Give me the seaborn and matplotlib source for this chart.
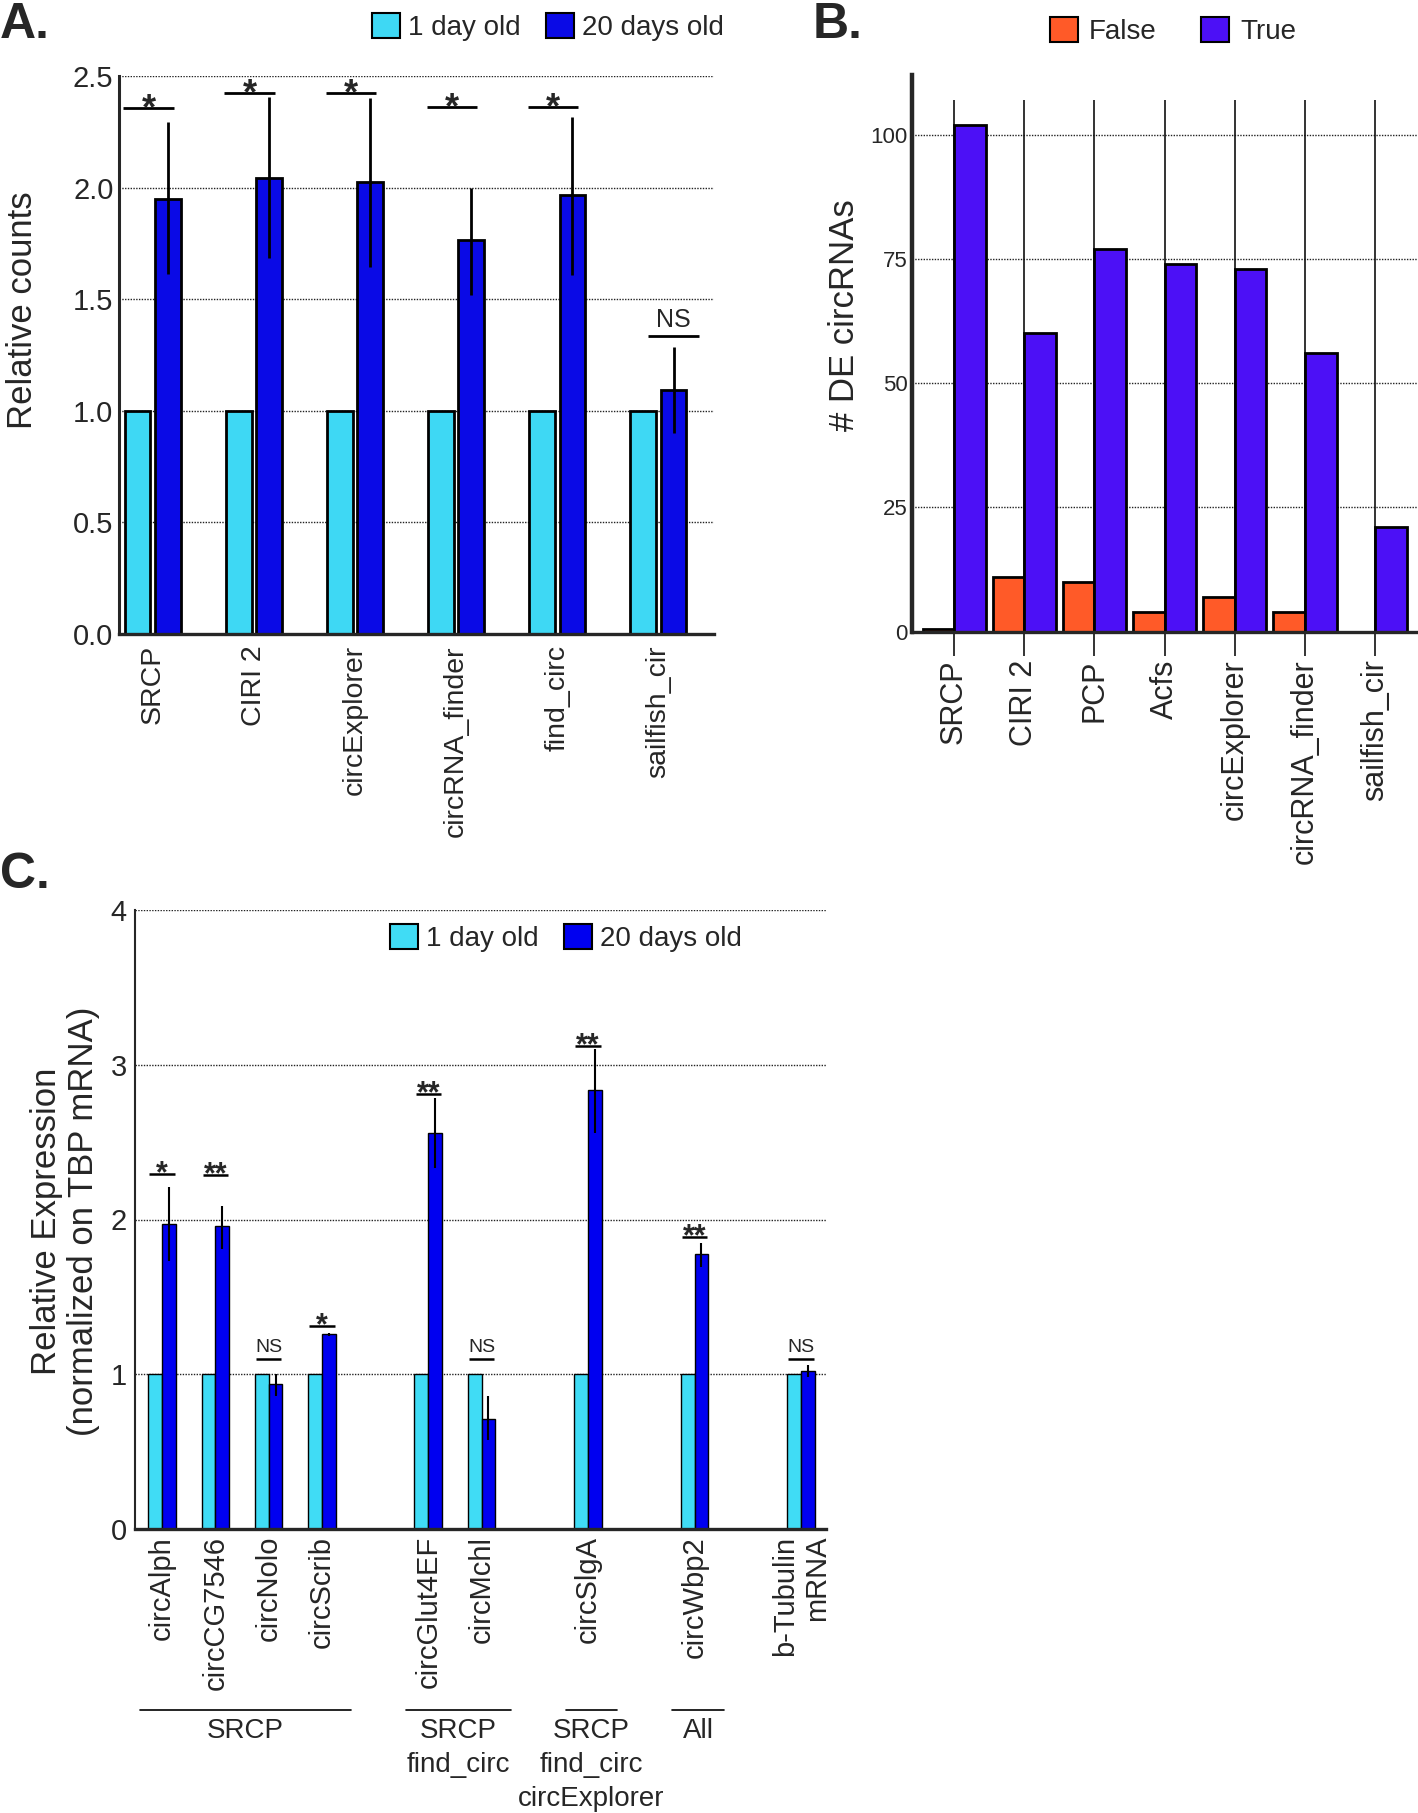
import numpy as np
import pandas as pd
import seaborn as sns
import matplotlib.pyplot as plt
import matplotlib.transforms as mtrans
from matplotlib.patches import Patch

# ---- data ----
# A. relative counts per tool
tools_a = ['SRCP', 'CIRI 2', 'circExplorer', 'circRNA_finder', 'find_circ', 'sailfish_cir']
young_a = [1.0, 1.0, 1.0, 1.0, 1.0, 1.0]
old_a = [1.95, 2.045, 2.025, 1.765, 1.965, 1.095]
old_a_hi = [2.295, 2.405, 2.40, 2.0, 2.315, 1.285]
old_a_lo = [1.615, 1.685, 1.645, 1.52, 1.61, 0.90]
sig_a = ['*', '*', '*', '*', '*', 'NS']
sig_a_y = [2.357, 2.425, 2.425, 2.361, 2.361, 1.336]

# B. number of DE circRNAs
tools_b = ['SRCP', 'CIRI 2', 'PCP', 'Acfs', 'circExplorer', 'circRNA_finder', 'sailfish_cir']
false_b = [0.5, 11, 10, 4, 7, 4, 0]
true_b = [102, 60, 77, 74, 73, 56, 21]

# C. qPCR validation
genes_c = ['circAlph', 'circCG7546', 'circNolo', 'circScrib', 'circGlut4EF',
           'circMchl', 'circSlgA', 'circWbp2', 'b-Tubulin\nmRNA']
young_c = [1.0, 1.0, 1.0, 1.0, 1.0, 1.0, 1.0, 1.0, 1.0]
old_c = [1.97, 1.955, 0.935, 1.258, 2.56, 0.714, 2.835, 1.775, 1.024]
old_c_hi = [2.21, 2.09, 1.0, 1.265, 2.787, 0.858, 3.103, 1.85, 1.062]
old_c_lo = [1.73, 1.81, 0.86, 1.25, 2.33, 0.578, 2.56, 1.695, 0.98]
sig_c = ['*', '**', 'NS', '*', '**', 'NS', '**', '**', 'NS']
sig_c_y = [2.296, 2.29, 1.10, 1.314, 2.811, 1.10, 3.122, 1.888, 1.10]
slots_c = ['circAlph', 'circCG7546', 'circNolo', 'circScrib', ' ', 'circGlut4EF', 'circMchl',
           '  ', 'circSlgA', '   ', 'circWbp2', '    ', 'b-Tubulin\nmRNA']
groups_c = ['SRCP', 'SRCP\nfind_circ', 'SRCP\nfind_circ\ncircExplorer', 'All']
group_first = ['circAlph', 'circGlut4EF', 'circSlgA', 'circWbp2']
group_last = ['circScrib', 'circMchl', 'circSlgA', 'circWbp2']

ages = ['1 day old', '20 days old']
cyan, blue = '#3ED8F4', '#0A0AE6'
cyan_c, blue_c = '#40DCF5', '#0000F0'
orange, purple = '#FF5A28', '#4C10F6'

sns.set_style('white')
plt.rcParams['font.family'] = ['Liberation Sans', 'DejaVu Sans']

W, H = 1418, 1813
fig = plt.figure(figsize=(W / 100, H / 100), dpi=100)


def box(l, t, r, b):
    return [l / W, 1 - b / H, (r - l) / W, (b - t) / H]


dots = dict(color='#222222', linestyle=(0, (1, 1)), linewidth=1.0)

# ---- panel A ----
ax_a = fig.add_axes(box(119, 76, 714, 634))
df_a = pd.DataFrame({'tool': tools_a * 2,
                     'age': [ages[0]] * len(tools_a) + [ages[1]] * len(tools_a),
                     'value': young_a + old_a})
sns.barplot(data=df_a, x='tool', y='value', hue='age', palette=[cyan, blue], saturation=1,
            width=0.6, gap=0.15, edgecolor='black', linewidth=2.0, errorbar=None,
            legend=False, zorder=2, ax=ax_a)
ax_a.set_axisbelow(True)
ax_a.yaxis.grid(True, **dots)
ax_a.set_ylim(0, 2.5)
ax_a.set_xlim(-0.333, 5.55)
ax_a.set_yticks(np.arange(0, 2.51, 0.5))
ax_a.set_yticklabels([f'{v:.1f}' for v in np.arange(0, 2.51, 0.5)])
ax_a.set_xlabel('')
ax_a.set_ylabel('')
ax_a.tick_params(axis='y', labelsize=21, length=0, pad=4)
ax_a.tick_params(axis='x', labelsize=20.5, length=0, pad=8, rotation=90)
sns.despine(ax=ax_a)
ax_a.spines['left'].set_linewidth(2.2)
ax_a.spines['bottom'].set_linewidth(2.4)

xs_a = [p.get_x() + p.get_width() / 2 for p in ax_a.containers[1]]
ax_a.vlines(xs_a, old_a_lo, old_a_hi, color='black', lw=2, zorder=3)
ticks_a = ax_a.get_xticks()
star_tr = mtrans.offset_copy(ax_a.transData, fig=fig, y=-8, units='points')
ns_tr = mtrans.offset_copy(ax_a.transData, fig=fig, y=3, units='points')
for i, (s, y) in enumerate(zip(sig_a, sig_a_y)):
    xc = ticks_a[i] - 0.04 if s != 'NS' else xs_a[i]
    ax_a.plot([xc - 0.25, xc + 0.25], [y, y], color='black', lw=2, solid_capstyle='butt')
    if s == 'NS':
        ax_a.text(xc, y, s, ha='center', va='bottom', fontsize=18, transform=ns_tr)
    else:
        ax_a.text(xc, y, s, ha='center', va='baseline', fontsize=26, weight='bold',
                  transform=star_tr)

fig.text(23 / W, 1 - 310 / H, 'Relative counts', rotation=90, ha='center', va='center', fontsize=25)
fig.legend(handles=[Patch(facecolor=cyan, edgecolor='black', lw=1.5, label=ages[0]),
                    Patch(facecolor=blue, edgecolor='black', lw=1.5, label=ages[1])],
           loc='center left', bbox_to_anchor=(372 / W, 1 - 27 / H), ncol=2, frameon=False,
           fontsize=20, handlelength=1.0, handleheight=1.0, handletextpad=0.3,
           columnspacing=0.9, borderpad=0, borderaxespad=0)
fig.text(0, 1 - 2 / H, 'A.', fontsize=36, weight='bold', ha='left', va='top')

# ---- panel B ----
ax_b = fig.add_axes(box(912, 75, 1418, 631.5))
df_b = pd.DataFrame({'tool': tools_b * 2,
                     'is_de': ['False'] * len(tools_b) + ['True'] * len(tools_b),
                     'count': false_b + true_b})
sns.barplot(data=df_b, x='tool', y='count', hue='is_de', palette=[orange, purple], saturation=1,
            width=0.9, edgecolor='black', linewidth=2.0, errorbar=None, legend=False,
            zorder=2, ax=ax_b)
ax_b.set_axisbelow(True)
ax_b.yaxis.grid(True, **dots)
ax_b.set_ylim(0, 112)
ax_b.set_xlim(-0.6, 6.61)
ax_b.set_yticks([0, 25, 50, 75, 100])
ax_b.vlines(ax_b.get_xticks(), 0, 107, color='#111111', lw=1.2, zorder=1)
ax_b.set_xlabel('')
ax_b.set_ylabel('')
ax_b.tick_params(axis='y', labelsize=16, length=0, pad=3)
ax_b.tick_params(axis='x', labelsize=22, length=17, width=1.2, color='#111111', direction='out',
                 pad=3, rotation=90, bottom=True)
sns.despine(ax=ax_b)
ax_b.spines['left'].set_linewidth(3.2)
ax_b.spines['bottom'].set_linewidth(2.4)
fig.text(844 / W, 1 - 315 / H, '# DE circRNAs', rotation=90, ha='center', va='center', fontsize=25)
fig.legend(handles=[Patch(facecolor=orange, edgecolor='black', lw=1.5, label='False'),
                    Patch(facecolor=purple, edgecolor='black', lw=1.5, label='True')],
           loc='center left', bbox_to_anchor=(1050 / W, 1 - 31 / H), ncol=2, frameon=False,
           fontsize=20, handlelength=1.0, handleheight=1.0, handletextpad=0.4,
           columnspacing=1.6, borderpad=0, borderaxespad=0)
fig.text(813 / W, 1 - 2 / H, 'B.', fontsize=36, weight='bold', ha='left', va='top')

# ---- panel C ----
ax_c = fig.add_axes(box(135, 910, 826, 1529))
df_c = pd.DataFrame({'gene': genes_c * 2,
                     'age': [ages[0]] * len(genes_c) + [ages[1]] * len(genes_c),
                     'value': young_c + old_c})
sns.barplot(data=df_c, x='gene', y='value', hue='age', order=slots_c, palette=[cyan_c, blue_c],
            saturation=1, width=0.52, edgecolor='black', linewidth=1.0, errorbar=None,
            legend=False, zorder=2, ax=ax_c)
ax_c.set_axisbelow(True)
ax_c.yaxis.grid(True, **dots)
ax_c.set_ylim(0, 4)
ax_c.set_xlim(-0.51, 12.47)
ax_c.set_yticks([0, 1, 2, 3, 4])
ax_c.set_xticks(range(len(slots_c)))
ax_c.set_xticklabels(slots_c, rotation=90, multialignment='right')
ax_c.set_xlabel('')
ax_c.set_ylabel('')
ax_c.tick_params(axis='y', labelsize=21, length=0, pad=6)
ax_c.tick_params(axis='x', labelsize=21, length=0, pad=5)
sns.despine(ax=ax_c)
ax_c.spines['left'].set_linewidth(1.5)
ax_c.spines['bottom'].set_linewidth(2.4)

dark_c = sorted(ax_c.containers[1], key=lambda p: p.get_x())
xs_c = [p.get_x() + p.get_width() / 2 for p in dark_c]
ax_c.vlines(xs_c, old_c_lo, old_c_hi, color='black', lw=1.5, zorder=3)
star_tr_c = mtrans.offset_copy(ax_c.transData, fig=fig, y=-6, units='points')
ns_tr_c = mtrans.offset_copy(ax_c.transData, fig=fig, y=2, units='points')
for g, s, y in zip(genes_c, sig_c, sig_c_y):
    xc = slots_c.index(g)
    ax_c.plot([xc - 0.24, xc + 0.24], [y, y], color='black', lw=1.8, solid_capstyle='butt')
    if s == 'NS':
        ax_c.text(xc, y, s, ha='center', va='bottom', fontsize=14, transform=ns_tr_c)
    else:
        ax_c.text(xc, y, s, ha='center', va='baseline', fontsize=22, weight='bold',
                  transform=star_tr_c)

fig.legend(handles=[Patch(facecolor=cyan_c, edgecolor='black', lw=1.5, label=ages[0]),
                    Patch(facecolor=blue_c, edgecolor='black', lw=1.5, label=ages[1])],
           loc='center left', bbox_to_anchor=(390 / W, 1 - 938 / H), ncol=2, frameon=False,
           fontsize=20, handlelength=1.0, handleheight=1.0, handletextpad=0.3,
           columnspacing=0.9, borderpad=0, borderaxespad=0)

# method groups below the x labels
tr = mtrans.blended_transform_factory(ax_c.transData, ax_c.transAxes)
for name, a, b in zip(groups_c, group_first, group_last):
    x0 = slots_c.index(a) - 0.42
    x1 = slots_c.index(b) + 0.55
    ax_c.plot([x0, x1], [-0.2916, -0.2916], color='black', lw=1.2, transform=tr, clip_on=False)
    ax_c.text((x0 + x1) / 2, -0.305, name, ha='center', va='top', fontsize=20,
              linespacing=1.4, transform=tr)

fig.text(65 / W, 1 - 1221 / H, 'Relative Expression\n(normalized on TBP mRNA)', rotation=90,
         ha='center', va='center', fontsize=25, linespacing=1.15)
fig.text(0, 1 - 852 / H, 'C.', fontsize=36, weight='bold', ha='left', va='top')

fig.savefig('out.png', dpi=100)
